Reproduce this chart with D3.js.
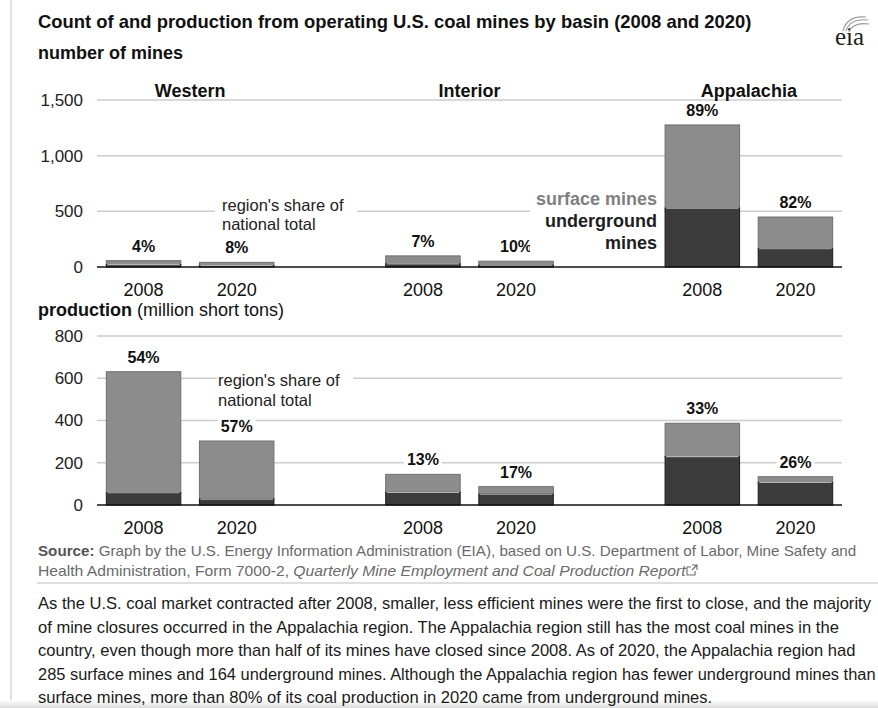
<!DOCTYPE html>
<html><head><meta charset="utf-8">
<script src="https://cdn.jsdelivr.net/npm/d3@7"></script>
<style>
body{margin:0;background:#fff;}
svg{display:block;font-family:"Liberation Sans",Arial,sans-serif;}
</style>
</head><body>
<svg id="c" width="878" height="708"></svg>
<script>
// ---------- data ----------
const regions = ["Western", "Interior", "Appalachia"];
const years = ["2008", "2020"];
// order: Western 2008, Western 2020, Interior 2008, Interior 2020, Appalachia 2008, Appalachia 2020
const minesSurface     = [35, 29, 72, 36, 748, 285];
const minesUnderground = [22, 13, 28, 16, 528, 164];
const minesShare       = ["4%", "8%", "7%", "10%", "89%", "82%"];
const prodSurface      = [573, 275, 85, 36, 158, 27];
const prodUnderground  = [58, 28, 60, 51, 229, 107];
const prodShare        = ["54%", "57%", "13%", "17%", "33%", "26%"];
const minesTicks = [0, 500, 1000, 1500];
const prodTicks  = [0, 200, 400, 600, 800];

const titleText = "Count of and production from operating U.S. coal mines by basin (2008 and 2020)";
const paragraph = [
  "As the U.S. coal market contracted after 2008, smaller, less efficient mines were the first to close, and the majority",
  "of mine closures occurred in the Appalachia region. The Appalachia region still has the most coal mines in the",
  "country, even though more than half of its mines have closed since 2008. As of 2020, the Appalachia region had",
  "285 surface mines and 164 underground mines. Although the Appalachia region has fewer underground mines than",
  "surface mines, more than 80% of its coal production in 2020 came from underground mines."
];

// ---------- build categories ----------
const cats = [];
regions.forEach((r, i) => years.forEach(y => cats.push(r + "|" + y)));
const slots = [];
regions.forEach((r, i) => {
  years.forEach(y => slots.push(r + "|" + y));
  if (i < regions.length - 1) slots.push("gap" + i);
});

const svg = d3.select("#c");
const SURF = "#8c8c8c", UND = "#3b3b3b";

const x = d3.scaleBand().domain(slots).range([97, 842]).paddingInner(0.2).paddingOuter(0.1);

// left frame line and bottom shade
svg.append("line").attr("x1", 11).attr("x2", 11).attr("y1", 0).attr("y2", 704)
  .attr("stroke", "#d6d6d6").attr("stroke-width", 1.5);
const defs = svg.append("defs");
const lg = defs.append("linearGradient").attr("id", "shade").attr("x1", 0).attr("x2", 0).attr("y1", 0).attr("y2", 1);
lg.append("stop").attr("offset", "0%").attr("stop-color", "#ffffff");
lg.append("stop").attr("offset", "100%").attr("stop-color", "#dcdcdc");
svg.append("rect").attr("x", 0).attr("y", 700).attr("width", 878).attr("height", 8).attr("fill", "url(#shade)");

function fitX(sel, x0, target) {
  const w = sel.node().getComputedTextLength();
  const k = target / w;
  sel.attr("x", 0).attr("transform", `translate(${x0},0) scale(${k},1)`);
  return k;
}

// ---------- titles ----------
const t = svg.append("text").attr("y", 28).attr("font-weight", "bold").attr("font-size", 18)
  .attr("fill", "#111").text(titleText);
fitX(t, 38, 714);
svg.append("text").attr("x", 38).attr("y", 59).attr("font-weight", "bold").attr("font-size", 18)
  .attr("fill", "#111").text("number of mines");

// eia logo
const logo = svg.append("g");
logo.append("text").attr("x", 835).attr("y", 45).attr("font-family", "'Liberation Serif','DejaVu Serif',serif")
  .attr("font-size", 25).attr("fill", "#222").text("eia");
[[843, 31, 866, 17], [846, 31, 868, 20], [849, 32, 869, 24]].forEach(a => {
  logo.append("path").attr("d", `M${a[0]},${a[1]} Q${a[0] + 4},${a[3] - 2} ${a[2]},${a[3]}`)
    .attr("fill", "none").attr("stroke", "#9a9a9a").attr("stroke-width", 1.2);
});

// ---------- panel ----------
function panel(cfg) {
  const y = d3.scaleLinear().domain([0, d3.max(cfg.ticks)]).range([cfg.y0, cfg.yTop]);
  const g = svg.append("g");
  // gridlines
  g.selectAll("line.grid").data(cfg.ticks.filter(d => d > 0)).join("line")
    .attr("x1", 97).attr("x2", 842).attr("y1", d => y(d)).attr("y2", d => y(d))
    .attr("stroke", "#cdcdcd").attr("stroke-width", 1.5);
  // y axis labels
  const ya = g.append("g").attr("transform", "translate(97,0)")
    .call(d3.axisLeft(y).tickValues(cfg.ticks).tickFormat(d3.format(",")).tickSize(0).tickPadding(14));
  ya.select(".domain").remove();
  ya.selectAll("text").attr("font-size", 17).attr("fill", "#222").attr("font-family", "'Liberation Sans',Arial,sans-serif");

  const data = cats.map((c, i) => ({ key: c, s: cfg.surf[i], u: cfg.und[i], share: cfg.share[i] }));
  // bars
  const bars = g.selectAll("g.bar").data(data).join("g");
  bars.append("rect")
    .attr("x", d => x(d.key)).attr("width", x.bandwidth())
    .attr("y", d => y(d.u + d.s)).attr("height", d => y(d.u) - y(d.u + d.s))
    .attr("fill", SURF).attr("stroke", "#707070").attr("stroke-width", 1);
  bars.append("rect")
    .attr("x", d => x(d.key)).attr("width", x.bandwidth())
    .attr("y", d => y(d.u)).attr("height", d => y(0) - y(d.u))
    .attr("fill", UND).attr("stroke", "#1c1c1c").attr("stroke-width", 1);
  bars.append("line")
    .attr("x1", d => x(d.key) + 1).attr("x2", d => x(d.key) + x.bandwidth() - 1)
    .attr("y1", d => y(d.u)).attr("y2", d => y(d.u))
    .attr("stroke", "#b4b4b4").attr("stroke-width", 1.2);
  // baseline
  g.append("line").attr("x1", 97).attr("x2", 842).attr("y1", y(0)).attr("y2", y(0))
    .attr("stroke", "#111").attr("stroke-width", 1.6);
  // share labels
  data.forEach(d => {
    const lab = g.append("text").attr("x", x(d.key) + x.bandwidth() / 2).attr("y", y(d.u + d.s) - 9)
      .attr("text-anchor", "middle").attr("font-weight", "bold").attr("font-size", 16).attr("fill", "#111")
      .text(d.share);
    const b = lab.node().getBBox();
    g.insert("rect", () => lab.node()).attr("x", b.x - 3).attr("y", b.y + 2).attr("width", b.width + 6).attr("height", b.height - 3)
      .attr("fill", "#fff");
  });
  // x axis labels
  const xa = g.append("g").attr("transform", `translate(0,${y(0)})`)
    .call(d3.axisBottom(x).tickValues(cats).tickFormat(k => k.split("|")[1]).tickSize(0).tickPadding(16));
  xa.select(".domain").remove();
  xa.selectAll("text").attr("font-size", 18).attr("fill", "#111").attr("font-family", "'Liberation Sans',Arial,sans-serif");
  // "region's share of national total"
  const note = g.append("g");
  const l1 = note.append("text").attr("x", cfg.noteX).attr("y", cfg.noteY).attr("font-size", 16.5).attr("fill", "#222").text("region's share of");
  const l2 = note.append("text").attr("x", cfg.noteX).attr("y", cfg.noteY + 19.5).attr("font-size", 16.5).attr("fill", "#222").text("national total");
  const b1 = l1.node().getBBox(), b2 = l2.node().getBBox();
  note.insert("rect", "text").attr("x", b1.x - cfg.padL).attr("y", b1.y).attr("width", b1.width + cfg.padL + 13)
    .attr("height", b2.y + b2.height - b1.y).attr("fill", "#fff");
  return { y, g };
}

// ---------- top: number of mines ----------
panel({ y0: 267, yTop: 100, ticks: minesTicks, surf: minesSurface, und: minesUnderground,
  share: minesShare, noteX: 222, noteY: 210.5, padL: 7 });

// region titles
regions.forEach(r => {
  const cx = (x(r + "|2008") + x(r + "|2020") + x.bandwidth()) / 2;
  svg.append("text").attr("x", cx).attr("y", 96.5).attr("text-anchor", "middle")
    .attr("font-weight", "bold").attr("font-size", 18).attr("fill", "#111").text(r);
});

// legend in top panel
const leg = svg.append("g");
leg.append("rect").attr("x", 530).attr("y", 186).attr("width", 134).attr("height", 68).attr("fill", "#fff");
leg.append("text").attr("x", 657).attr("y", 204.5).attr("text-anchor", "end").attr("font-weight", "bold")
  .attr("font-size", 18).attr("fill", "#808080").text("surface mines");
leg.append("text").attr("x", 657).attr("y", 226.5).attr("text-anchor", "end").attr("font-weight", "bold")
  .attr("font-size", 18).attr("fill", "#1e1e1e").text("underground");
leg.append("text").attr("x", 657).attr("y", 248.5).attr("text-anchor", "end").attr("font-weight", "bold")
  .attr("font-size", 18).attr("fill", "#1e1e1e").text("mines");

// ---------- bottom: production ----------
const pt = svg.append("text").attr("x", 38).attr("y", 316).attr("font-size", 18).attr("fill", "#111");
pt.append("tspan").attr("font-weight", "bold").text("production");
pt.append("tspan").text(" (million short tons)");

panel({ y0: 505, yTop: 336, ticks: prodTicks, surf: prodSurface, und: prodUnderground,
  share: prodShare, noteX: 218, noteY: 386, padL: 1 });

// ---------- source ----------
const s1 = svg.append("text").attr("y", 556).attr("font-size", 14).attr("fill", "#6a6a6a");
s1.append("tspan").attr("font-weight", "bold").attr("fill", "#555").text("Source:");
s1.append("tspan").text(" Graph by the U.S. Energy Information Administration (EIA), based on U.S. Department of Labor, Mine Safety and");
fitX(s1, 38, 819);
const s2 = svg.append("text").attr("y", 576).attr("font-size", 14).attr("fill", "#6a6a6a");
s2.append("tspan").text("Health Administration, Form 7000-2, ");
s2.append("tspan").attr("font-style", "italic").text("Quarterly Mine Employment and Coal Production Report");
fitX(s2, 38, 648);
const ix = 38 + 648 + 1;
svg.append("path").attr("d", `M${ix},567 h4 M${ix},567 v8 h8 v-4 M${ix + 5},565 h5 v5 M${ix + 10},565 l-5,5`)
  .attr("fill", "none").attr("stroke", "#6a6a6a").attr("stroke-width", 1.1);
svg.append("line").attr("x1", 37).attr("x2", 878).attr("y1", 583).attr("y2", 583)
  .attr("stroke", "#bdbdbd").attr("stroke-width", 1.2);

// ---------- paragraph ----------
let kp = null;
paragraph.forEach((line, i) => {
  const tx = svg.append("text").attr("y", 609.5 + i * 23.5).attr("font-size", 16).attr("fill", "#1a1a1a").text(line);
  if (kp === null) kp = fitX(tx, 38, 834);
  else {
    const w = tx.node().getComputedTextLength();
    const k = Math.min(kp, 838 / w);   // keep every line inside the page
    tx.attr("x", 0).attr("transform", `translate(38,0) scale(${k},1)`);
  }
});
</script>
</body></html>
